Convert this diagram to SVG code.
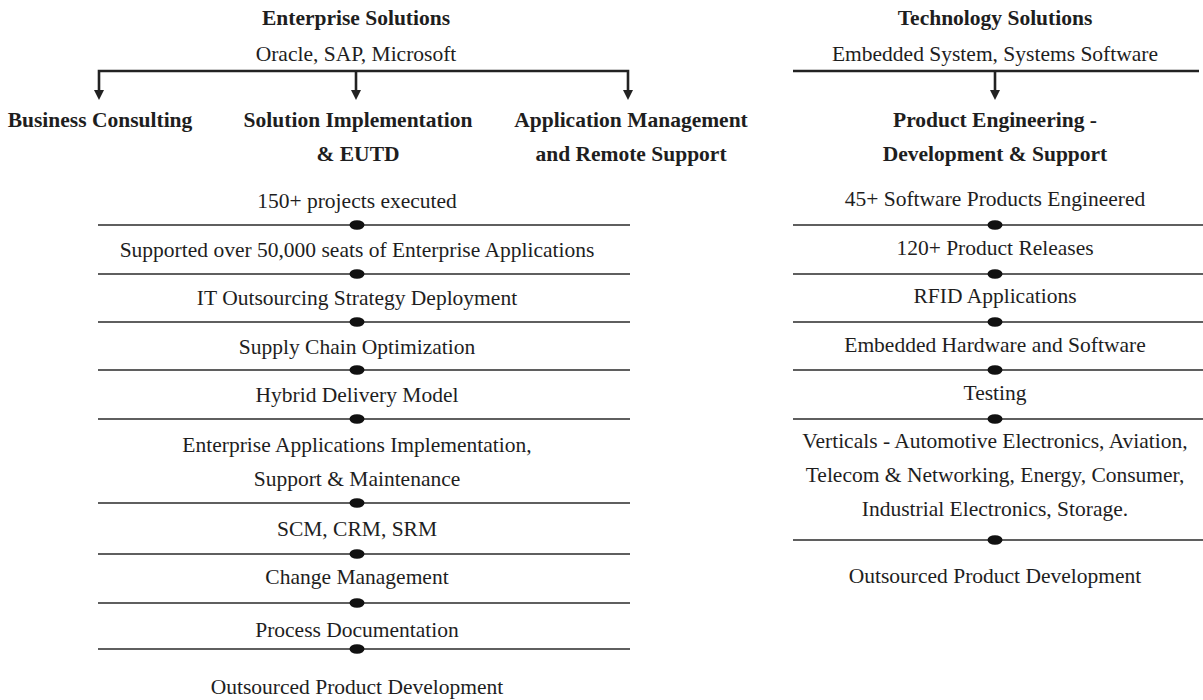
<svg xmlns="http://www.w3.org/2000/svg" width="1203" height="700" viewBox="0 0 1203 700">
<defs>
<style>
text{font-family:"Liberation Serif","Times New Roman",serif;fill:#1e1e1e;text-anchor:middle}
.r{font-size:21.5px}
.b{font-size:21.5px;font-weight:bold}
.sep{stroke:#2a2a2a;stroke-width:1.6;fill:none}
.br{stroke:#222;stroke-width:2.6;fill:none}
.dot{fill:#111}
.ah{fill:#222}
</style>
</defs>
<rect width="1203" height="700" fill="#fff"/>

<g id="connectors">
<path class="br" d="M99,91 V71 H628 V91"/>
<path class="br" d="M356,71 V91"/>
<path class="br" d="M793,71 H1199"/>
<path class="br" d="M995,71 V91"/>
<polygon class="ah" points="94,90 104,90 99,100"/>
<polygon class="ah" points="351,90 361,90 356,100"/>
<polygon class="ah" points="623,90 633,90 628,100"/>
<polygon class="ah" points="990,90 1000,90 995,100"/>
<g class="seps">
<line class="sep" x1="98" y1="225" x2="630" y2="225"/>
<line class="sep" x1="98" y1="274" x2="630" y2="274"/>
<line class="sep" x1="98" y1="322" x2="630" y2="322"/>
<line class="sep" x1="98" y1="370" x2="630" y2="370"/>
<line class="sep" x1="98" y1="419" x2="630" y2="419"/>
<line class="sep" x1="98" y1="503" x2="630" y2="503"/>
<line class="sep" x1="98" y1="554" x2="630" y2="554"/>
<line class="sep" x1="98" y1="603" x2="630" y2="603"/>
<line class="sep" x1="98" y1="649" x2="630" y2="649"/>
<line class="sep" x1="793" y1="225" x2="1203" y2="225"/>
<line class="sep" x1="793" y1="274" x2="1203" y2="274"/>
<line class="sep" x1="793" y1="322" x2="1203" y2="322"/>
<line class="sep" x1="793" y1="370" x2="1203" y2="370"/>
<line class="sep" x1="793" y1="419" x2="1203" y2="419"/>
<line class="sep" x1="793" y1="540" x2="1203" y2="540"/>
</g>
<g class="dots">
<ellipse class="dot" cx="357" cy="225" rx="7.5" ry="4.8"/>
<ellipse class="dot" cx="357" cy="274" rx="7.5" ry="4.8"/>
<ellipse class="dot" cx="357" cy="322" rx="7.5" ry="4.8"/>
<ellipse class="dot" cx="357" cy="370" rx="7.5" ry="4.8"/>
<ellipse class="dot" cx="357" cy="419" rx="7.5" ry="4.8"/>
<ellipse class="dot" cx="357" cy="503" rx="7.5" ry="4.8"/>
<ellipse class="dot" cx="357" cy="554" rx="7.5" ry="4.8"/>
<ellipse class="dot" cx="357" cy="603" rx="7.5" ry="4.8"/>
<ellipse class="dot" cx="357" cy="649" rx="7.5" ry="4.8"/>
<ellipse class="dot" cx="995" cy="225" rx="7.5" ry="4.8"/>
<ellipse class="dot" cx="995" cy="274" rx="7.5" ry="4.8"/>
<ellipse class="dot" cx="995" cy="322" rx="7.5" ry="4.8"/>
<ellipse class="dot" cx="995" cy="370" rx="7.5" ry="4.8"/>
<ellipse class="dot" cx="995" cy="419" rx="7.5" ry="4.8"/>
<ellipse class="dot" cx="995" cy="540" rx="7.5" ry="4.8"/>
</g>
</g>

<g id="enterprise">
<text class="b" x="356" y="25">Enterprise Solutions</text>
<text class="r" x="356" y="61">Oracle, SAP, Microsoft</text>
</g>
<g id="business-consulting"><text class="b" x="100" y="127">Business Consulting</text></g>
<g id="solution-implementation">
<text class="b" x="358" y="127">Solution Implementation</text>
<text class="b" x="358" y="161">&amp; EUTD</text>
</g>
<g id="application-management">
<text class="b" x="631" y="127">Application Management</text>
<text class="b" x="631" y="161">and Remote Support</text>
</g>
<g id="left-list">
<text class="r" x="357" y="208">150+ projects executed</text>
<text class="r" x="357" y="257">Supported over 50,000 seats of Enterprise Applications</text>
<text class="r" x="357" y="305">IT Outsourcing Strategy Deployment</text>
<text class="r" x="357" y="354">Supply Chain Optimization</text>
<text class="r" x="357" y="402">Hybrid Delivery Model</text>
<text class="r" x="357" y="452">Enterprise Applications Implementation,</text>
<text class="r" x="357" y="486">Support &amp; Maintenance</text>
<text class="r" x="357" y="536">SCM, CRM, SRM</text>
<text class="r" x="357" y="584">Change Management</text>
<text class="r" x="357" y="637">Process Documentation</text>
<text class="r" x="357" y="694">Outsourced Product Development</text>
</g>

<g id="technology">
<text class="b" x="995" y="25">Technology Solutions</text>
<text class="r" x="995" y="61">Embedded System, Systems Software</text>
</g>
<g id="product-engineering">
<text class="b" x="995" y="127">Product Engineering -</text>
<text class="b" x="995" y="161">Development &amp; Support</text>
</g>
<g id="right-list">
<text class="r" x="995" y="206">45+ Software Products Engineered</text>
<text class="r" x="995" y="255">120+ Product Releases</text>
<text class="r" x="995" y="303">RFID Applications</text>
<text class="r" x="995" y="352">Embedded Hardware and Software</text>
<text class="r" x="995" y="400">Testing</text>
<text class="r" x="995" y="448">Verticals - Automotive Electronics, Aviation,</text>
<text class="r" x="995" y="482">Telecom &amp; Networking, Energy, Consumer,</text>
<text class="r" x="995" y="516">Industrial Electronics, Storage.</text>
<text class="r" x="995" y="583">Outsourced Product Development</text>
</g>
</svg>
